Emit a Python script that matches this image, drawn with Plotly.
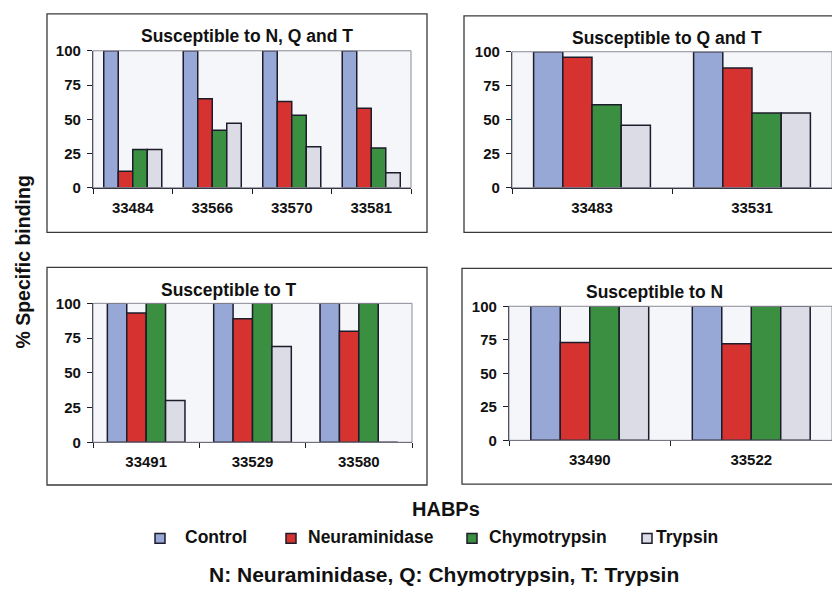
import plotly.graph_objects as go
from plotly.subplots import make_subplots

W, H = 832, 596

# Treatments and their bar colours
treatments = ["Control", "Neuraminidase", "Chymotrypsin", "Trypsin"]
colors = ["#97A8D6", "#D63330", "#3A9040", "#DCDCE6"]

# Susceptible to N, Q and T
habps_nqt = ["33484", "33566", "33570", "33581"]
control_nqt = [100, 100, 100, 100]
neuraminidase_nqt = [12, 65, 63, 58]
chymotrypsin_nqt = [28, 42, 53, 29]
trypsin_nqt = [28, 47, 30, 11]

# Susceptible to Q and T
habps_qt = ["33483", "33531"]
control_qt = [100, 100]
neuraminidase_qt = [96, 88]
chymotrypsin_qt = [61, 55]
trypsin_qt = [46, 55]

# Susceptible to T
habps_t = ["33491", "33529", "33580"]
control_t = [100, 100, 100]
neuraminidase_t = [93, 89, 80]
chymotrypsin_t = [100, 100, 100]
trypsin_t = [30, 69, 0]

# Susceptible to N
habps_n = ["33490", "33522"]
control_n = [100, 100]
neuraminidase_n = [73, 72]
chymotrypsin_n = [100, 100]
trypsin_n = [100, 100]

yticks = [0, 25, 50, 75, 100]

FONT = "Liberation Sans, Arial, sans-serif"
INK = "#1c1c2a"


def px(x):
    return x / W


def py(y):
    return 1 - y / H


panels = [
    dict(row=1, col=1, title="Susceptible to N, Q and T", cats=habps_nqt,
         series=[control_nqt, neuraminidase_nqt, chymotrypsin_nqt, trypsin_nqt],
         plot=(93, 43, 411, 184), box=(47, 5, 427, 230), tpos=(247, 28)),
    dict(row=1, col=2, title="Susceptible to Q and T", cats=habps_qt,
         series=[control_qt, neuraminidase_qt, chymotrypsin_qt, trypsin_qt],
         plot=(512, 44, 832, 184), box=(464, 7, 850, 230), tpos=(667, 30)),
    dict(row=2, col=1, title="Susceptible to T", cats=habps_t,
         series=[control_t, neuraminidase_t, chymotrypsin_t, trypsin_t],
         plot=(93, 303, 412, 446), box=(47, 266, 427, 490), tpos=(228, 289)),
    dict(row=2, col=2, title="Susceptible to N", cats=habps_n,
         series=[control_n, neuraminidase_n, chymotrypsin_n, trypsin_n],
         plot=(509, 306, 832, 444), box=(462, 267, 850, 489), tpos=(654, 291)),
]

fig = make_subplots(rows=2, cols=2)

shapes = []
annotations = []

for i, p in enumerate(panels):
    for name, color, vals in zip(treatments, colors, p["series"]):
        fig.add_trace(
            go.Bar(
                x=p["cats"], y=vals, name=name, showlegend=False,
                marker=dict(color=color, line=dict(color=INK, width=1.5)),
                hovertemplate="%{x}: %{y}%<extra>" + name + "</extra>",
            ),
            row=p["row"], col=p["col"],
        )
    x0, y0, x1, y1 = p["plot"]
    sfx = "" if i == 0 else str(i + 1)
    fig.layout["xaxis" + sfx].update(
        domain=[px(x0), px(x1)], type="category",
        range=[-0.5, len(p["cats"]) - 0.5],
        showline=True, linecolor=INK, linewidth=1.2,
        ticks="outside", tickson="boundaries", ticklen=5, tickcolor=INK,
        ticklabelstandoff=6, showgrid=False, zeroline=False,
        tickfont=dict(family=FONT, size=15, color="#111", weight="bold"),
    )
    fig.layout["yaxis" + sfx].update(
        domain=[py(y1), py(y0)], range=[0, 100], tickvals=yticks,
        showline=True, linecolor=INK, linewidth=1.2,
        ticks="outside", ticklen=5, tickcolor=INK, ticklabelstandoff=3,
        showgrid=False, zeroline=False,
        tickfont=dict(family=FONT, size=15, color="#111", weight="bold"),
    )
    # plot-area border (top and right edges)
    shapes.append(dict(type="rect", xref="x" + sfx + " domain", yref="y" + sfx + " domain",
                       x0=0, x1=1, y0=0, y1=1, line=dict(color="#8a8a96", width=1),
                       layer="above"))
    # outer chart frame
    bx0, by0, bx1, by1 = p["box"]
    shapes.append(dict(type="rect", xref="paper", yref="paper",
                       x0=px(bx0), x1=px(bx1), y0=py(by1), y1=py(by0),
                       line=dict(color="#3a3a3a", width=1.3), layer="below"))
    tx, ty = p["tpos"]
    annotations.append(dict(text=p["title"], xref="paper", yref="paper",
                            x=px(tx), y=py(ty), xanchor="center", yanchor="middle",
                            showarrow=False,
                            font=dict(family=FONT, size=17.5, color="#111", weight="bold")))

# Shared axis title
annotations.append(dict(text="% Specific binding", xref="paper", yref="paper",
                        x=px(23), y=py(261), textangle=-90, showarrow=False,
                        xanchor="center", yanchor="middle",
                        font=dict(family=FONT, size=19.5, color="#111", weight="bold")))
annotations.append(dict(text="HABPs", xref="paper", yref="paper",
                        x=px(446), y=py(515), showarrow=False,
                        xanchor="center", yanchor="middle",
                        font=dict(family=FONT, size=20, color="#111", weight="bold")))
annotations.append(dict(text="N: Neuraminidase, Q: Chymotrypsin, T: Trypsin",
                        xref="paper", yref="paper", x=px(444), y=py(582),
                        showarrow=False, xanchor="center", yanchor="middle",
                        font=dict(family=FONT, size=21, color="#111", weight="bold")))

# Legend row: swatch centre x and label start x
legend_swatch_x = [160, 291, 472, 647]
legend_text_x = [183, 306, 487, 654]
legend_y = 545
for name, color, sx, tx in zip(treatments, colors, legend_swatch_x, legend_text_x):
    shapes.append(dict(type="rect", xref="paper", yref="paper",
                       x0=px(sx - 5), x1=px(sx + 5), y0=py(legend_y + 5), y1=py(legend_y - 5),
                       fillcolor=color, line=dict(color=INK, width=1.5)))
    annotations.append(dict(text=name, xref="paper", yref="paper",
                            x=px(tx), y=py(legend_y - 1), xanchor="left", yanchor="middle",
                            showarrow=False,
                            font=dict(family=FONT, size=17.5, color="#111", weight="bold")))

fig.update_layout(
    width=W, height=H,
    margin=dict(l=0, r=0, t=0, b=0),
    paper_bgcolor="white", plot_bgcolor="#F5F6FA",
    barmode="group", bargap=0.27, bargroupgap=0,
    showlegend=False,
    shapes=shapes, annotations=annotations,
    font=dict(family=FONT),
)

fig.write_html("out.html")
